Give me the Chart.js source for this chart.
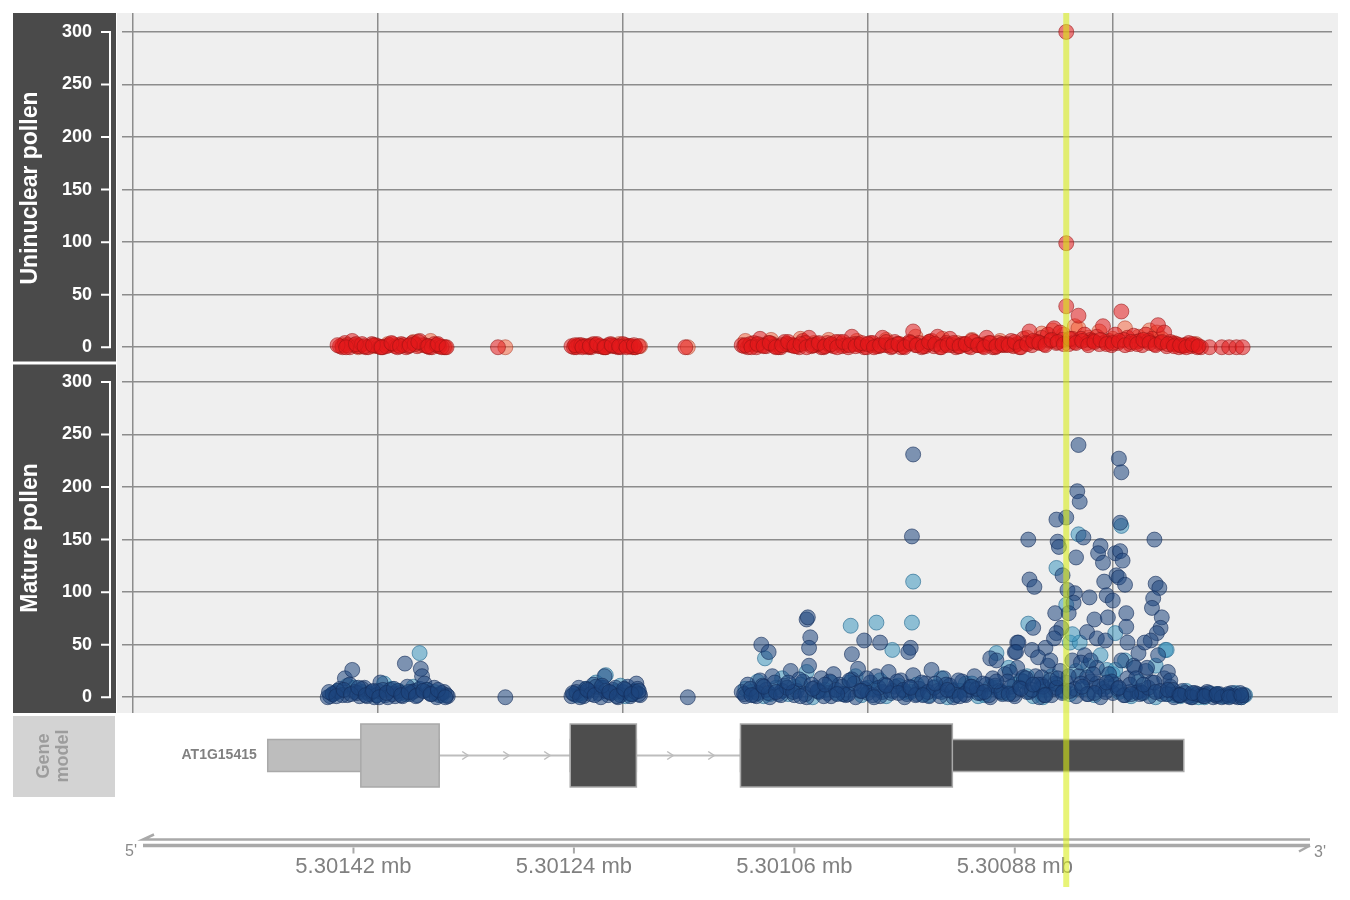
<!DOCTYPE html>
<html>
<head>
<meta charset="utf-8">
<script src="https://cdn.jsdelivr.net/npm/chart.js@4.4.1/dist/chart.umd.min.js"></script>
<style>
  html, body { margin:0; padding:0; background:#fff; }
  canvas { display:block; }
</style>
</head>
<body>
<canvas id="tracks" width="1350" height="900"></canvas>
<script>
// ===== データ (位置 = 5,300,000 からの bp オフセット) =====
const CHR_BASE = 5300000;

// Uninuclear pollen, rep1 (crimson)
const uniRep1Pos = [1431,1427,1423,1421,1419,1415,1410,1405,1400,1396,1391,1386,1381,1377,1372,1368,1366,1362,1358,1354,1350,1346,
  1429,1425,1417,1413,1408,1402,1398,1393,1388,1384,1379,1375,1370,1360,1356,1352,1348,
  1302,
  1240,1236,1232,1228,1224,1220,1216,1212,1208,1204,1200,1196,1192,
  1242,1238,1234,1230,1226,1222,1218,1214,1210,1206,1202,1198,1194,1190,
  1149,
  1103,1098,1093,1088,1083,1078,1073,1068,1063,1058,1053,1048,1043,1038,1033,1028,1023,1018,1013,1008,
  1003,998,993,988,983,978,973,968,963,958,953,948,943,938,933,928,923,918,913,908,
  903,898,893,888,883,878,873,868,863,858,853,848,843,838,838,838,833,828,823,818,813,808,
  803,798,793,788,783,778,773,768,763,758,753,748,743,738,733,728,
  1101,1096,1091,1086,1081,1076,1071,1066,1061,1056,1051,1046,1041,1036,1031,1026,1021,1016,1011,1006,
  1001,996,991,986,981,976,971,966,961,956,951,946,941,936,931,926,921,916,911,906,
  901,896,891,886,881,876,871,866,861,856,851,846,841,836,831,826,821,816,811,806,
  801,796,791,786,781,776,771,766,761,756,751,746,741,736,731,
  721,711,705,699,694];
const uniRep1Val = [1,4,0,6,2,1,0,3,1,0,2,1,3,0,4,1,6,2,0,3,1,0,
  0,2,1,3,0,2,0,1,3,0,2,1,3,1,0,2,0,
  0,
  0,2,1,0,3,1,0,2,1,0,3,1,0,
  1,0,2,1,0,2,1,0,3,1,0,2,1,0,
  0,
  2,0,4,8,1,3,0,5,2,1,6,9,2,0,4,1,5,2,10,3,
  0,4,1,9,2,5,0,3,15,4,1,6,10,2,8,0,3,1,5,2,
  9,0,4,2,6,3,8,15,5,9,12,18,14,39,99,300,8,30,12,7,10,20,
  6,12,34,9,11,6,12,8,21,14,5,3,1,4,2,0,
  1,3,0,2,4,1,0,3,2,0,4,1,3,0,2,5,1,0,3,2,
  0,4,1,2,0,3,1,5,2,0,3,1,0,4,2,1,3,0,2,1,
  4,0,2,3,1,0,4,2,5,3,6,4,7,3,5,8,4,6,3,5,
  2,4,7,3,5,2,6,3,4,1,3,0,2,1,0,
  0,0,0,0,0];
// rep1 の密な低値部分
const uniRep1FillPos = [1433,1426,1418,1411,1404,1397,1389,1382,1374,1367,1359,1351,1344,
  1239,1233,1227,1221,1215,1209,1203,1197,1191,1187,
  1100,1095,1090,1085,1080,1075,1070,1065,1060,1055,1050,1045,1040,1035,1030,1025,1020,1015,1010,1005,
  1000,995,990,985,980,975,970,965,960,955,950,945,940,935,930,925,920,915,910,905,
  900,895,890,885,880,875,870,865,860,855,850,845,840,835,830,825,820,815,810,805,
  800,795,790,785,780,775,770,765,760,755,750,745,740,735,730];
const uniRep1FillVal = [2,0,3,1,2,0,4,1,2,5,1,3,0,
  2,0,1,3,0,2,1,0,2,1,
  2,0,3,1,4,0,2,5,1,3,0,2,4,1,3,0,5,2,1,4,
  3,0,2,5,1,3,0,4,2,1,5,3,0,2,4,1,3,6,2,0,
  4,1,3,2,5,0,3,6,4,2,7,5,3,8,4,6,2,5,7,3,
  4,6,2,5,3,7,4,2,5,3,1,2,0,3,1];

// Uninuclear pollen, rep2 (orange-red)
const uniRep2Pos = [1429,1416,1404,1392,1383,1371,1366,1357,1350,1345,
  1296,
  1238,1226,1214,1203,1194,1190,1186,
  1147,
  1100,1090,1079,1066,1055,1044,1032,1021,1009,997,985,974,961,950,939,927,915,904,892,880,
  870,858,849,840,831,828,820,811,800,790,779,770,764,760,750,740,732];
const uniRep2Val = [2,0,1,3,2,5,2,6,1,0,
  0,
  1,2,0,3,1,0,1,
  0,
  6,2,7,3,8,4,7,3,6,2,7,3,10,5,8,4,7,3,6,2,
  9,13,16,12,20,18,9,15,8,18,10,16,14,8,4,2,3];

// Mature pollen, rep1 (navy)
const matRep1Pos = [1439,1435,1431,1427,1425,1423,1421,1419,1415,1411,1407,1403,1400,1398,1394,1390,1386,1382,1378,1376,
  1374,1370,1366,1365,1364,1362,1358,1354,1350,1346,1343,
  1441,1437,1433,1429,1417,1413,1409,1405,1401,1396,1392,1388,1384,1380,1372,1368,1360,1356,1352,1348,1344,
  1296,
  1240,1236,1232,1228,1224,1220,1216,1215,1212,1208,1204,1200,1196,1192,1189,1188,1186,
  1242,1238,1234,1230,1226,1222,1218,1214,1210,1206,1202,1198,1194,1190,1187,
  1147,
  1103,1098,1093,1088,1083,1078,1073,1068,1063,1058,1053,1048,1043,1038,1033,1028,1023,1018,1013,1008,
  1003,998,993,988,983,978,973,968,963,958,953,948,943,938,933,928,923,918,913,908,
  903,898,893,888,883,878,873,868,863,858,853,848,843,838,833,828,823,818,813,808,
  803,798,793,788,783,778,773,768,763,758,753,748,743,738,733,728,723,718,713,708,703,698,693,
  1100,1090,1080,1070,1060,1050,1040,1030,1020,1010,1000,990,980,970,960,950,940,930,920,910,
  900,890,880,870,860,850,840,830,820,810,800,790,780,770,760,750,745,735,725,715,705,695,
  963,964,1050,1049,1047,1003,990,1087,1081,1048,1013,965,967,878,880,900,
  828,795,793,829,827,838,846,794,824,869,766,845,844,810,812,798,794,830,792,808,
  841,797,795,868,864,807,790,765,762,837,831,832,819,805,800,767,768,847,836,815,
  804,789,760,761,865,842,846,821,813,806,789,764,769,877,879,866,855,848,788,779,
  774,861,851,826,818,782,772,755,895,884,873,858,857,847,821,813,786,778,753];
const matRep1Val = [1,4,8,18,2,12,26,5,1,9,3,0,6,14,2,7,1,4,32,10,
  3,6,8,27,20,13,4,9,2,5,1,
  0,3,6,2,4,8,1,5,2,7,0,3,6,1,5,2,7,3,0,4,2,
  0,
  3,9,1,6,12,4,9,20,2,7,0,5,10,3,13,8,2,
  1,5,2,8,3,10,0,6,4,9,2,7,1,5,3,
  0,
  5,12,2,16,7,20,3,11,25,6,15,30,9,18,4,22,12,2,17,27,
  8,14,20,5,24,10,16,3,21,8,13,26,6,18,11,2,15,7,20,4,
  12,18,6,22,10,28,15,5,20,12,30,8,25,14,35,20,40,15,28,8,
  22,12,35,18,30,6,25,14,40,18,10,3,6,1,4,2,5,0,3,1,4,0,2,
  1,4,0,6,2,0,5,1,3,0,4,1,6,0,3,1,5,0,2,4,
  0,3,1,5,0,2,6,1,3,0,4,2,5,1,3,0,2,0,3,1,2,0,
  231,153,74,76,57,54,52,50,43,47,41,47,43,52,43,37,
  240,227,214,196,186,171,169,166,152,150,150,148,143,144,137,137,139,133,130,128,
  116,116,114,112,105,110,107,108,104,102,99,90,95,97,92,94,85,80,80,74,
  76,80,76,66,66,66,61,62,56,54,67,61,54,52,43,45,47,56,52,42,
  52,38,35,33,35,28,28,24,35,24,19,19,10,13,19,13,5,3,16];
// rep1 の密な低値部分
const matRep1FillPos = [1440,1434,1428,1422,1416,1410,1404,1399,1393,1387,1381,1375,1369,1363,1357,1351,1345,
  1241,1235,1229,1223,1217,1211,1205,1199,1193,1187,
  1101,1096,1091,1086,1081,1076,1071,1066,1061,1056,1051,1046,1041,1036,1031,1026,1021,1016,1011,1006,
  1001,996,991,986,981,976,971,966,961,956,951,946,941,936,931,926,921,916,911,906,
  901,896,891,886,881,876,871,866,861,856,851,846,841,836,831,826,821,816,811,806,
  801,796,791,786,781,776,771,766,761,756,751,746,741,736,731,726,721,716,711,706,701,696,
  1095,1085,1075,1065,1055,1045,1035,1025,1015,1005,995,985,975,965,955,945,935,925,915,905,
  895,885,875,865,855,845,835,825,815,805,795,785,775,765,755,745,735,725,715,705,695];
const matRep1FillVal = [5,1,7,3,9,2,6,0,4,8,2,5,1,6,3,7,0,
  4,0,7,2,11,5,1,8,3,6,
  3,8,1,11,4,14,2,9,5,17,3,12,6,1,15,7,10,3,13,6,
  18,2,9,12,4,15,7,10,2,14,5,9,1,12,6,16,3,10,8,13,
  2,11,5,15,3,9,18,7,12,2,16,9,4,20,8,13,3,22,10,5,
  15,8,2,12,18,4,9,14,6,3,7,2,4,0,3,1,4,2,0,3,1,4,
  2,10,5,14,1,8,12,3,16,6,0,11,4,9,2,13,7,1,10,5,
  15,3,8,12,2,18,6,10,4,14,9,3,12,5,7,2,4,1,3,0,2];

// Mature pollen, rep2 (teal)
const matRep2Pos = [1437,1425,1413,1401,1389,1377,1366,1360,1348,1433,1419,1407,1395,1383,1371,1354,
  1238,1230,1222,1214,1206,1198,1190,1234,1218,1202,1194,
  1100,1090,1080,1070,1060,1050,1040,1030,1020,1010,1000,990,970,960,950,940,930,920,910,900,
  890,880,870,860,850,840,830,820,810,800,790,779,765,757,750,740,730,720,710,700,692,
  1095,1085,1075,1065,1055,1045,1035,1025,1015,1005,995,985,975,965,955,945,935,925,915,905,
  895,885,875,865,855,845,835,825,815,805,795,785,775,765,755,745,735,725,715,705,695,
  963,964,1014,993,980,1084,895,793,828,869,798,835,827,756,805,798,857,846,838,833,885];
const matRep2Val = [3,11,5,2,8,3,42,7,2,6,9,4,13,6,10,5,
  2,8,14,21,5,1,6,4,9,11,3,
  8,15,3,18,10,24,6,14,3,20,9,16,5,12,2,18,7,13,1,10,
  4,12,20,8,20,5,25,30,40,22,35,15,30,45,2,6,0,3,1,4,2,
  5,1,9,3,12,0,7,4,14,2,8,1,11,5,3,10,0,6,13,2,
  9,4,16,1,7,12,3,8,2,10,5,1,4,0,3,1,2,0,3,1,0,
  110,71,68,71,45,37,42,163,155,70,61,52,52,45,26,26,0,123,88,60,28];

// 遺伝子モデル AT1G15415 (bp オフセット)
const geneName = 'AT1G15415';
const exonFrom = [1490, 1243, 1104];
const exonTo   = [1350, 1189, 742];
const cdsFrom  = [1414, 1243, 1104];
const cdsTo    = [1350, 1189, 931];
const exonFill = ['#bdbdbd', '#4d4d4d', '#4d4d4d'];

// グリッドとゲノム軸
const gridPos = [800, 1000, 1200, 1400, 1600];
const axisTicks = [1420, 1240, 1060, 880];
const highlightPos = 838;

const pts = (pos, val) => pos.map((p, i) => ({ x: p, y: val[i] }));
const FONT = "'Liberation Sans', Arial, sans-serif";

// ===== 描画プラグイン =====
const gvizPlugin = {
  id: 'gviz',
  beforeDraw(chart) {
    const { ctx, chartArea: a, scales } = chart;
    ctx.save();
    ctx.fillStyle = '#fff';
    ctx.fillRect(0, 0, chart.width, chart.height);
    ctx.fillStyle = '#efefef';
    ctx.fillRect(a.left - 5, a.top, a.right - a.left + 11, a.bottom - a.top);
    // タイトルパネル
    for (const s of [scales.yUni, scales.yMat]) {
      const t = s.top > a.top + 1 ? s.top + 1.5 : s.top;
      const b = s.bottom < a.bottom - 1 ? s.bottom - 1.5 : s.bottom;
      ctx.fillStyle = '#4a4a4a';
      ctx.fillRect(s.left, t, s.right - s.left - 6, b - t);
    }
    ctx.fillStyle = '#d3d3d3';
    ctx.fillRect(scales.yUni.left, a.bottom + 3, 102, 81);
    ctx.restore();
  },
  afterDraw(chart) {
    const { ctx, chartArea: a, scales } = chart;
    const X = v => scales.x.getPixelForValue(v);
    ctx.save();

    // y軸の白線と目盛り
    ctx.strokeStyle = '#fff';
    ctx.lineWidth = 2;
    for (const s of [scales.yUni, scales.yMat]) {
      const ax = s.right - 12;
      ctx.beginPath();
      ctx.moveTo(ax, s.getPixelForValue(0));
      ctx.lineTo(ax, s.getPixelForValue(300));
      s.ticks.forEach(t => {
        const y = s.getPixelForValue(t.value);
        ctx.moveTo(ax - 9, y);
        ctx.lineTo(ax + 1, y);
      });
      ctx.stroke();
    }

    // トラック名
    const vText = (txt, x, y, color, size) => {
      ctx.save();
      ctx.translate(x, y);
      ctx.rotate(-Math.PI / 2);
      ctx.fillStyle = color;
      ctx.font = `bold ${size}px ${FONT}`;
      ctx.textAlign = 'center';
      ctx.textBaseline = 'middle';
      ctx.fillText(txt, 0, 0);
      ctx.restore();
    };
    vText('Uninuclear pollen', 31, (scales.yUni.top + scales.yUni.bottom) / 2, '#fff', 23);
    vText('Mature pollen', 31, (scales.yMat.top + scales.yMat.bottom) / 2, '#fff', 23);
    vText('Gene', 44, a.bottom + 43, '#9c9c9c', 18);
    vText('model', 63, a.bottom + 43, '#9c9c9c', 18);

    // 遺伝子モデル
    const gy = a.bottom + 42.5;
    ctx.strokeStyle = '#bdbdbd';
    ctx.lineWidth = 2;
    const chevStart = X(exonTo[0]) + 26;
    for (let i = 0; i < exonFrom.length - 1; i++) {
      const x1 = X(exonTo[i]), x2 = X(exonFrom[i + 1]);
      ctx.beginPath();
      ctx.moveTo(x1, gy); ctx.lineTo(x2, gy);
      ctx.stroke();
      ctx.lineWidth = 1.5;
      for (let c = chevStart; c < x2 - 8; c += 41) {
        if (c < x1 + 8) continue;
        ctx.beginPath();
        ctx.moveTo(c - 3, gy - 4); ctx.lineTo(c + 3, gy); ctx.lineTo(c - 3, gy + 4);
        ctx.stroke();
      }
      ctx.lineWidth = 2;
    }
    for (let i = 0; i < exonFrom.length; i++) {
      ctx.fillStyle = exonFill[i];
      ctx.strokeStyle = '#a9a9a9';
      ctx.lineWidth = 1.5;
      const ex1 = X(exonFrom[i]), ex2 = X(exonTo[i]);
      ctx.fillRect(ex1, gy - 16, ex2 - ex1, 32);
      ctx.strokeRect(ex1, gy - 16, ex2 - ex1, 32);
      const c1 = X(cdsFrom[i]), c2 = X(cdsTo[i]);
      ctx.fillRect(c1, gy - 31.5, c2 - c1, 63);
      ctx.strokeRect(c1, gy - 31.5, c2 - c1, 63);
    }
    ctx.fillStyle = '#808080';
    ctx.font = `bold 14px ${FONT}`;
    ctx.textAlign = 'right';
    ctx.textBaseline = 'middle';
    ctx.fillText(geneName, X(exonFrom[0]) - 11, gy);

    // ゲノム軸
    const ay1 = a.bottom + 126.5, ay2 = a.bottom + 132.5;
    const gx1 = a.left + 21, gx2 = a.right - 22;
    ctx.strokeStyle = '#a9a9a9';
    ctx.lineWidth = 2.5;
    ctx.beginPath();
    ctx.moveTo(gx1 + 11, ay1 - 5); ctx.lineTo(gx1, ay1); ctx.lineTo(gx2, ay1);
    ctx.stroke();
    ctx.lineWidth = 3.5;
    ctx.beginPath();
    ctx.moveTo(gx1, ay2); ctx.lineTo(gx2, ay2);
    ctx.stroke();
    ctx.lineWidth = 2.5;
    ctx.beginPath();
    ctx.moveTo(gx2, ay2); ctx.lineTo(gx2 - 11, ay2 + 6);
    ctx.stroke();
    ctx.lineWidth = 2;
    ctx.fillStyle = '#808080';
    ctx.font = `22px ${FONT}`;
    ctx.textAlign = 'center';
    for (const t of axisTicks) {
      const tx = X(t);
      ctx.beginPath();
      ctx.moveTo(tx, ay2 + 2); ctx.lineTo(tx, ay2 + 8);
      ctx.stroke();
      ctx.fillText(((CHR_BASE + t) / 1e6).toFixed(5) + ' mb', tx, ay2 + 21);
    }
    ctx.fillStyle = '#8a8a8a';
    ctx.font = `16px ${FONT}`;
    ctx.fillText("5'", gx1 - 12, ay2 + 6);
    ctx.fillText("3'", gx2 + 10, ay2 + 7);

    // ハイライト
    ctx.fillStyle = 'rgba(215,236,20,0.58)';
    ctx.fillRect(X(highlightPos) - 3, a.top, 6, a.bottom + 174 - a.top);
    ctx.restore();
  }
};

const noPad = s => { s.paddingTop = 0; s.paddingBottom = 0; s.paddingLeft = 0; s.paddingRight = 0; };
const tickFont = { family: FONT, size: 18, weight: 'bold' };
const yTrack = () => ({
  type: 'linear', position: 'left', stack: 'tracks', stackWeight: 1,
  min: -15, max: 318,
  afterFit: s => { s.width = 109; noPad(s); },
  ticks: { stepSize: 50, includeBounds: false, color: '#fff', padding: 30, font: tickFont },
  grid: { color: '#8c8c8c', lineWidth: 1.5, drawTicks: false },
  border: { display: false }
});

const pointStyle = (bg, bd) => ({
  backgroundColor: bg, borderColor: bd, borderWidth: 1,
  pointRadius: 7.5, pointHoverRadius: 7.5
});

new Chart(document.getElementById('tracks').getContext('2d'), {
  type: 'scatter',
  data: {
    datasets: [
      { label: 'Uninuclear rep1', data: pts(uniRep1Pos, uniRep1Val).concat(pts(uniRep1FillPos, uniRep1FillVal)), yAxisID: 'yUni', ...pointStyle('rgba(228,26,28,0.55)', 'rgba(150,20,20,0.55)') },
      { label: 'Uninuclear rep2', data: pts(uniRep2Pos, uniRep2Val), yAxisID: 'yUni', ...pointStyle('rgba(245,90,50,0.5)', 'rgba(170,50,30,0.5)') },
      { label: 'Mature rep1', data: pts(matRep1Pos, matRep1Val).concat(pts(matRep1FillPos, matRep1FillVal)), yAxisID: 'yMat', ...pointStyle('rgba(30,70,125,0.55)', 'rgba(20,45,90,0.6)') },
      { label: 'Mature rep2', data: pts(matRep2Pos, matRep2Val), yAxisID: 'yMat', ...pointStyle('rgba(60,150,190,0.55)', 'rgba(30,100,140,0.6)') }
    ]
  },
  options: {
    responsive: false,
    animation: false,
    layout: { padding: { left: 13, right: 18, top: 13, bottom: 187 } },
    plugins: { legend: { display: false }, tooltip: { enabled: false } },
    scales: {
      x: {
        type: 'linear', reverse: true, min: 621, max: 1609,
        afterBuildTicks: s => { s.ticks = gridPos.map(v => ({ value: v })); },
        afterFit: s => { s.height = 0; noPad(s); },
        ticks: { display: false },
        grid: { color: '#8c8c8c', lineWidth: 1.5, drawTicks: false },
        border: { display: false }
      },
      yMat: yTrack(),
      yUni: yTrack()
    }
  },
  plugins: [gvizPlugin]
});
</script>
</body>
</html>
